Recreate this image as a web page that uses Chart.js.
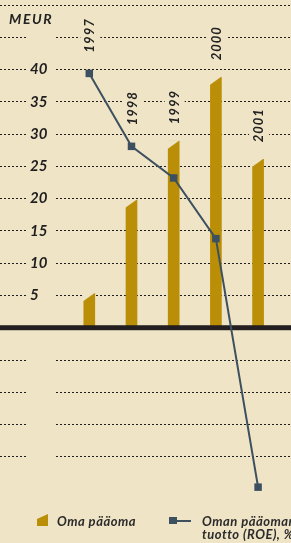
<!DOCTYPE html>
<html>
<head>
<meta charset="utf-8">
<script src="https://cdn.jsdelivr.net/npm/chart.js@4/dist/chart.umd.min.js"></script>
<style>
html, body { margin: 0; padding: 0; background: #EFE4C6; overflow: hidden; }
#wrap { position: relative; width: 291px; height: 543px; }
#unit { position: absolute; left: 9px; top: 12px; font: italic bold 14px Lato; line-height: 14px; letter-spacing: 1.6px; color: #222; }
.leg { position: absolute; font: italic bold 13px Lato; line-height: 13px; letter-spacing: 0.5px; color: #2b2b2b; white-space: nowrap; }
.tri { position: absolute; left: 37px; top: 514px; width: 11px; height: 12px; background: #BA8E06; clip-path: polygon(0 42%, 100% 0, 100% 100%, 0 100%); }
.sq { position: absolute; left: 169px; top: 517px; width: 8px; height: 7px; background: #3D5060; }
.ln { position: absolute; left: 177px; top: 520px; width: 14px; height: 2px; background: #3D5060; }
</style>
</head>
<body>
<div id="wrap">
    <canvas id="chart" width="291" height="543"></canvas>
    <div id="unit">MEUR</div>
    <div class="tri"></div>
    <div class="leg" style="left:57px; top:515px;">Oma pääoma</div>
    <div class="sq"></div>
    <div class="ln"></div>
    <div class="leg" style="left:202px; top:515px;">Oman pääoman<br>tuotto (ROE), %</div>
</div>
<script>
var years = [1997, 1998, 1999, 2000, 2001];
var equity = [5.3, 19.8, 28.9, 38.8, 26.1];      // oma pääoma, MEUR
var roe = [39.4, 28.1, 23.2, 13.8, -24.7];       // ROE, %
var gridValues = [-20, -15, -10, -5, 0, 5, 10, 15, 20, 25, 30, 35, 40, 45, 50];
var yLabels = [5, 10, 15, 20, 25, 30, 35, 40];

var bg = '#EFE4C6';
var gold = '#BA8E06';
var slate = '#3D5060';

// rakoja ruudukkoon, vuosiluvut, vinot palkkien yläpäät ja nollaviiva
var decor = {
    id: 'decor',
    beforeDatasetsDraw: function (chart) {
        var ctx = chart.ctx, sy = chart.scales.y, sx = chart.scales.x;
        ctx.save();
        ctx.fillStyle = bg;
        sy.ticks.forEach(function (t) {
            if (t.value == 50 || t.value == 0) return;
            var py = sy.getPixelForValue(t.value);
            ctx.fillRect(28, py - 2, 26, 4);
        });
        ctx.font = 'italic bold 13px Lato';
        years.forEach(function (yr, i) {
            var top = Math.min(sy.getPixelForValue(equity[i]), sy.getPixelForValue(roe[i]) - 4);
            var px = sx.getPixelForValue(yr) + 1;
            var txt = String(yr);
            var w = ctx.measureText(txt).width + 2;
            var bottom = top - 17;
            ctx.fillStyle = bg;
            ctx.fillRect(px - 10, bottom - w - 3, 20, w + 6);
            ctx.save();
            ctx.translate(px, bottom);
            ctx.rotate(-Math.PI / 2);
            ctx.fillStyle = '#222';
            ctx.textBaseline = 'middle';
            ctx.letterSpacing = '1px';
            ctx.fillText(txt, 0, 0);
            ctx.restore();
        });
        ctx.restore();
    },
    afterDatasetDraw: function (chart, args) {
        if (args.index != 0) return;
        var ctx = chart.ctx, area = chart.chartArea;
        ctx.save();
        ctx.fillStyle = bg;
        args.meta.data.forEach(function (el) {
            var l = el.x - el.width / 2, r = el.x + el.width / 2;
            ctx.beginPath();
            ctx.moveTo(l - 1, el.y - 1);
            ctx.lineTo(r + 0.5, el.y - 1);
            ctx.lineTo(l - 1, el.y + 8);
            ctx.closePath();
            ctx.fill();
        });
        var y0 = chart.scales.y.getPixelForValue(0);
        ctx.fillStyle = '#231F20';
        ctx.fillRect(area.left, y0 - 2.5, area.right - area.left, 5);
        ctx.restore();
    }
};

new Chart(document.getElementById('chart').getContext('2d'), {
    data: {
        datasets: [{
            type: 'bar',
            label: 'Oma pääoma',
            data: years.map(function (yr, i) { return {x: yr, y: equity[i]}; }),
            backgroundColor: gold,
            barThickness: 11,
            order: 1
        }, {
            type: 'line',
            label: 'Oman pääoman tuotto (ROE), %',
            data: years.map(function (yr, i) { return {x: yr, y: roe[i]}; }),
            borderColor: slate,
            borderWidth: 2,
            tension: 0,
            pointStyle: 'rect',
            pointRadius: 5.3,
            pointBorderWidth: 0,
            pointBackgroundColor: slate,
            order: 0
        }]
    },
    options: {
        responsive: false,
        animation: false,
        layout: {autoPadding: false, padding: {top: 5, bottom: 41, left: 0, right: 0}},
        plugins: {legend: {display: false}, tooltip: {enabled: false}},
        scales: {
            x: {type: 'linear', offset: false, min: 1994.884, max: 2001.78, display: false},
            y: {
                min: -27,
                max: 50,
                position: 'left',
                afterFit: function (s) {
                    s.width = 0;
                    s.paddingTop = 0;
                    s.paddingBottom = 0;
                },
                afterBuildTicks: function (s) {
                    s.ticks = gridValues.map(function (v) { return {value: v}; });
                },
                grid: {color: '#1e1e1e', lineWidth: 1, drawTicks: false},
                border: {display: false, dash: [2, 2]},
                ticks: {
                    mirror: true,
                    padding: 30,
                    z: 1,
                    autoSkip: false,
                    color: '#1e1e1e',
                    font: {family: 'Lato', size: 15, style: 'italic', weight: 'bold'},
                    callback: function (v) { return yLabels.indexOf(v) >= 0 ? String(v) : ''; }
                }
            }
        }
    },
    plugins: [decor]
});
</script>
</body>
</html>
